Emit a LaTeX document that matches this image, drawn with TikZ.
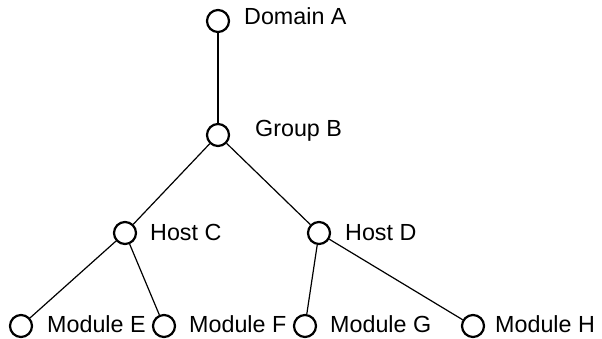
\documentclass[tikz,border=0pt]{standalone}
\usepackage{fontspec}
\setmainfont{Liberation Sans}
\begin{document}
\begin{tikzpicture}[x=1pt,y=-1pt,
  vtx/.style={circle,draw,line width=2.2pt,minimum size=22pt,inner sep=0pt},
  lbl/.style={anchor=base west,inner sep=0pt,font=\fontsize{23.3}{27}\selectfont},
  edge/.style={line width=1.2pt}]
\useasboundingbox (0,0) rectangle (602,339);
\node[vtx] (A) at (218,21) {};
\node[vtx] (B) at (218,135) {};
\node[vtx] (C) at (125,233) {};
\node[vtx] (D) at (319,233) {};
\node[vtx] (E) at (21,326) {};
\node[vtx] (F) at (164,326) {};
\node[vtx] (G) at (305,326) {};
\node[vtx] (H) at (473,326) {};
\node[lbl] (tA) at (244,25) {Domain A};
\node[lbl] (tB) at (255,137) {Group B};
\node[lbl] (tC) at (150,240) {Host C};
\node[lbl] (tD) at (345,240) {Host D};
\node[lbl] (tE) at (47,332) {Module E};
\node[lbl] (tF) at (189,332) {Module F};
\node[lbl] (tG) at (330,332) {Module G};
\node[lbl] (tH) at (495,332) {Module H};
\draw[edge] (A) -- (B);
\draw[edge] (B) -- (C);
\draw[edge] (B) -- (D);
\draw[edge] (C) -- (E);
\draw[edge] (C) -- (F);
\draw[edge] (D) -- (G);
\draw[edge] (D) -- (H);
\end{tikzpicture}
\end{document}
